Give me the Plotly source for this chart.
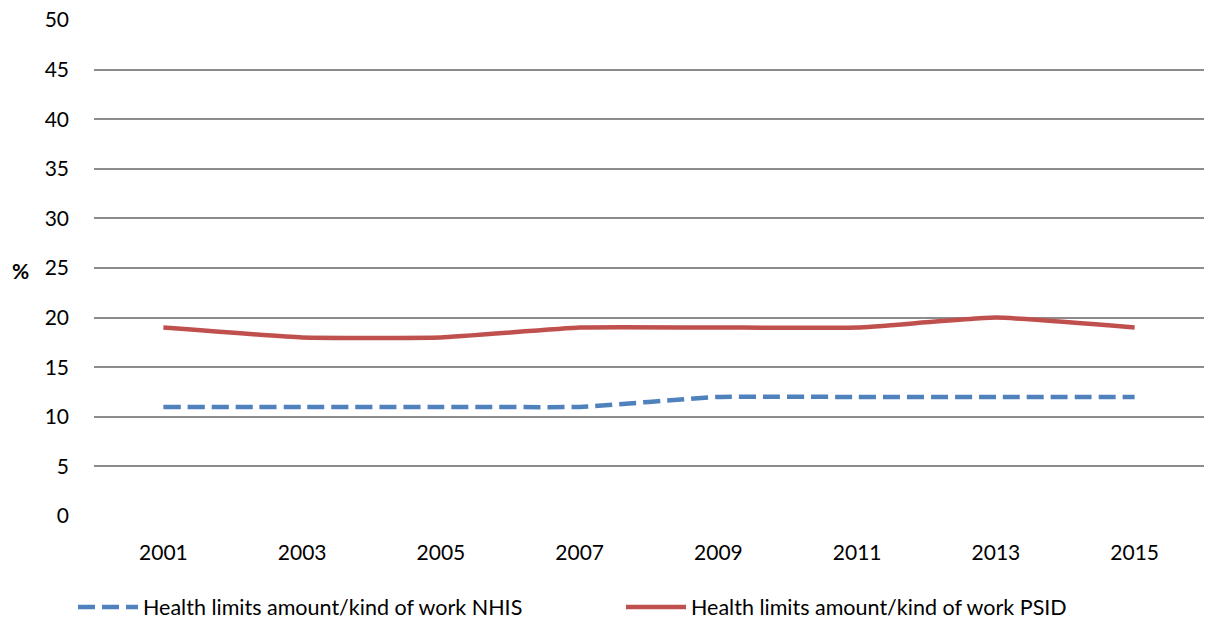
import plotly.graph_objects as go

years = ["2001", "2003", "2005", "2007", "2009", "2011", "2013", "2015"]
nhis = [11, 11, 11, 11, 12, 12, 12, 12]
psid = [19, 18, 18, 19, 19, 19, 20, 19]
y_ticks = [0, 5, 10, 15, 20, 25, 30, 35, 40, 45, 50]

FONT = "Lato"
L, R, T, B = 94, 7, 20, 107
W, H = 1211, 623
PW, PH = W - L - R, H - T - B

fig = go.Figure()
fig.add_trace(go.Scatter(
    x=years, y=nhis, mode="lines",
    name="Health limits amount/kind of work NHIS",
    line=dict(color="#4F81BD", width=4.5, dash="17px,7px", shape="spline", smoothing=0.35),
))
fig.add_trace(go.Scatter(
    x=years, y=psid, mode="lines",
    name="Health limits amount/kind of work PSID",
    line=dict(color="#C0504D", width=4.5, shape="spline", smoothing=0.35),
))

fig.update_layout(
    width=W, height=H,
    margin=dict(l=L, r=R, t=T, b=B, autoexpand=False),
    paper_bgcolor="white", plot_bgcolor="white",
    font=dict(family=FONT, size=21, color="#000000"),
    showlegend=True,
    legend=dict(
        orientation="h", xref="container", yref="container",
        x=73 / W, xanchor="left",
        y=1 - 607 / H, yanchor="middle",
        font=dict(family=FONT, size=21.5), itemwidth=60,
        entrywidth=473, entrywidthmode="pixels", tracegroupgap=0,
    ),
    xaxis=dict(
        type="category", range=[-0.5, 7.5], showgrid=False, zeroline=False,
        showline=False, ticks="", ticklabelstandoff=22, tickfont=dict(size=21),
    ),
    yaxis=dict(
        range=[0, 50], tickvals=y_ticks, showgrid=True, gridcolor="#8C8C8C",
        gridwidth=1.5, zeroline=False, showline=False, ticks="",
        ticklabelstandoff=24, tickfont=dict(size=21),
    ),
    annotations=[dict(
        text="<b>%</b>", x=(20 - L) / PW, y=(T + PH - 270) / PH,
        xref="paper", yref="paper", xanchor="center", yanchor="middle",
        showarrow=False, font=dict(size=21),
    )],
)

fig.write_html("out.html")
